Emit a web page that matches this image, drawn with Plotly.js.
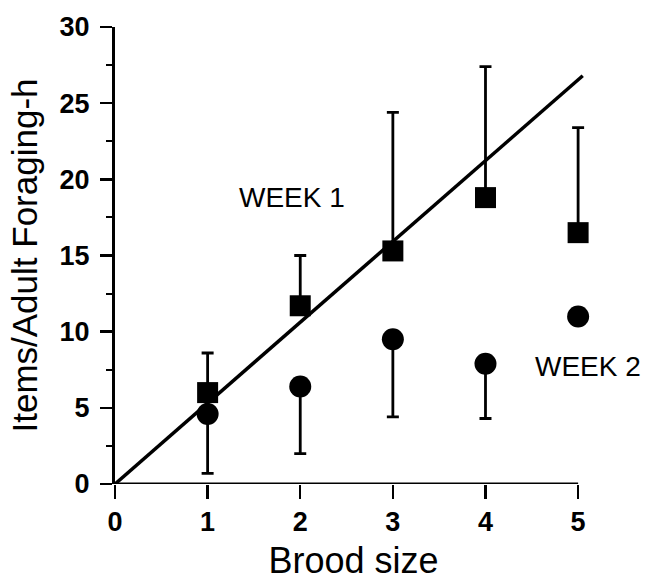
<!DOCTYPE html>
<html>
<head>
<meta charset="utf-8">
<script src="https://cdn.plot.ly/plotly-3.0.1.min.js"></script>
<style>html,body{margin:0;padding:0;background:#fff;}#chart{width:653px;height:581px;}</style>
</head>
<body>
<div id="chart"></div>
<script>
// Data
const broodSize = [1, 2, 3, 4, 5];
const week1Mean = [6.0, 11.7, 15.3, 18.8, 16.5];
const week1Upper = [8.6, 15.0, 24.4, 27.4, 23.4];
const week2Mean = [4.6, 6.4, 9.5, 7.9, 11.0];
const week2Lower = [0.7, 2.0, 4.4, 4.3, 11.0];
const fitX = [0, 5.05];
const fitY = [0, 26.8];
const xTicks = [0, 1, 2, 3, 4, 5];
const yTicks = [0, 5, 10, 15, 20, 25, 30];

const week1Plus = week1Upper.map((u, i) => u - week1Mean[i]);
const week2Minus = week2Mean.map((m, i) => m - week2Lower[i]);
const zeros = broodSize.map(() => 0);

const traces = [
  {
    x: fitX, y: fitY, mode: 'lines', type: 'scatter',
    line: {color: '#000', width: 3.5}, hoverinfo: 'skip', showlegend: false
  },
  {
    x: broodSize, y: week1Mean, mode: 'markers', type: 'scatter', name: 'WEEK 1',
    marker: {symbol: 'square', size: 21, color: '#000'},
    error_y: {type: 'data', symmetric: false, array: week1Plus, arrayminus: zeros,
              color: '#000', thickness: 2.8, width: 6},
    cliponaxis: false, showlegend: false
  },
  {
    x: broodSize, y: week2Mean, mode: 'markers', type: 'scatter', name: 'WEEK 2',
    marker: {symbol: 'circle', size: 22, color: '#000'},
    error_y: {type: 'data', symmetric: false, array: zeros, arrayminus: week2Minus,
              color: '#000', thickness: 2.8, width: 6},
    cliponaxis: false, showlegend: false
  }
];

const tickFont = {family: 'Liberation Sans, Arial, sans-serif', size: 27, color: '#000', weight: 'bold'};
const titleFont = {family: 'Liberation Sans, Arial, sans-serif', size: 35, color: '#000'};

const layout = {
  width: 653, height: 581,
  margin: {l: 115, r: 61, t: 27, b: 97},
  paper_bgcolor: '#fff', plot_bgcolor: '#fff',
  xaxis: {
    range: [0, 5.15], tickvals: xTicks, ticktext: xTicks.map(String),
    showgrid: false, zeroline: false, showline: false,
    ticks: 'outside', ticklen: 14, tickwidth: 2.5, tickcolor: '#000',
    ticklabelstandoff: 0,
    tickfont: tickFont,
    title: {text: 'Brood size', font: Object.assign({}, titleFont, {size: 36}), standoff: 14}
  },
  yaxis: {
    range: [0, 30], tickvals: yTicks, ticktext: yTicks.map(String),
    showgrid: false, zeroline: false, showline: true, linecolor: '#000', linewidth: 3,
    ticks: 'outside', ticklen: 12, tickwidth: 2.5, tickcolor: '#000',
    ticklabelstandoff: 5,
    minor: {dtick: 2.5, ticks: 'outside', ticklen: 6, tickwidth: 2, tickcolor: '#000', showgrid: false},
    tickfont: tickFont,
    title: {text: 'Items/Adult Foraging-h', font: titleFont, standoff: 12}
  },
  shapes: [
    {type: 'line', xref: 'x', yref: 'y', x0: 0, x1: 5, y0: 0, y1: 0,
     line: {color: '#000', width: 3}}
  ],
  annotations: [
    {text: 'WEEK 1', x: 1.91, y: 18.8, xref: 'x', yref: 'y', showarrow: false,
     xanchor: 'center', yanchor: 'middle',
     font: {family: 'Liberation Sans, Arial, sans-serif', size: 28, color: '#000'}},
    {text: 'WEEK 2', x: 4.51, y: 7.7, xref: 'x', yref: 'y', showarrow: false,
     xanchor: 'left', yanchor: 'middle',
     font: {family: 'Liberation Sans, Arial, sans-serif', size: 28, color: '#000'}}
  ]
};

Plotly.newPlot('chart', traces, layout, {displayModeBar: false, staticPlot: true});
</script>
</body>
</html>
